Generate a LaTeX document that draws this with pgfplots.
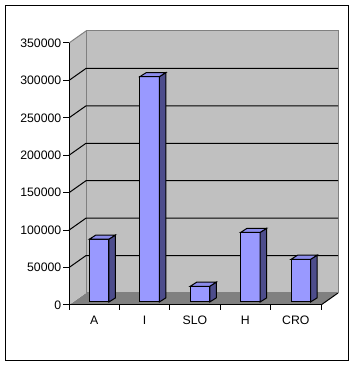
\documentclass[border=0pt]{standalone}
\usepackage{pgfplots}
\pgfplotsset{compat=1.18}
\usepackage{fontspec}
\setmainfont{Liberation Sans}
\definecolor{wallgray}{HTML}{C0C0C0}
\definecolor{floorgray}{HTML}{808080}
\definecolor{barfront}{HTML}{9999FF}
\definecolor{bartop}{HTML}{8C8CEB}
\definecolor{barside}{HTML}{4D4D8C}
\begin{document}
\begin{tikzpicture}[x=1pt,y=1pt]
\useasboundingbox (-51.75,-45.75) rectangle (215.25,228.75);
\draw[line width=0.75pt] (-47.6,-41.25) rectangle (209.6,224.6);
\begin{axis}[
  at={(0,0)}, anchor=south west, scale only axis,
  width=189pt, height=196.5pt,
  xmin=0, xmax=5, ymin=0, ymax=350000,
  clip=false, axis lines*=left, axis on top,
  axis line style={black, line width=0.75pt, -},
  tick style={black, line width=0.75pt},
  tick align=outside,
  major tick length=4.5pt, minor tick length=3.75pt,
  ytick={0,50000,100000,150000,200000,250000,300000,350000},
  scaled y ticks=false,
  yticklabel style={/pgf/number format/fixed, /pgf/number format/1000 sep={}, xshift=2.25pt},
  xtick={0.5,1.5,2.5,3.5,4.5},
  xticklabels={A,I,SLO,H,CRO},
  major x tick style={draw=none},
  minor xtick={0,1,2,3,4,5},
  tick label style={font=\fontsize{9.2}{10}\selectfont, black},
  /pgf/number format/assume math mode=true,
]
% floor
\fill[floorgray] (axis cs:0,0) -- (axis cs:5,0) -- (axis cs:5.3373,16031) -- (axis cs:0.3373,16031) -- cycle;
\draw[black, line width=0.75pt] (axis cs:5,0) -- (axis cs:5.3373,16031);
% side wall
\fill[wallgray] (axis cs:0,0) -- (axis cs:0,350000) -- (axis cs:0.3373,366031) -- (axis cs:0.3373,16031) -- cycle;
\draw[floorgray, line width=0.75pt] (axis cs:0,350000) -- (axis cs:0.3373,366031);
% back wall
\fill[wallgray] (axis cs:0.3373,16031) rectangle (axis cs:5.3373,366031);
\draw[floorgray, line width=0.75pt] (axis cs:0.3373,16031) rectangle (axis cs:5.3373,366031);
% gridlines
\draw[black, line width=0.75pt] (axis cs:0,50000) -- (axis cs:0.3373,66031) -- (axis cs:5.3373,66031);
\draw[black, line width=0.75pt] (axis cs:0,100000) -- (axis cs:0.3373,116031) -- (axis cs:5.3373,116031);
\draw[black, line width=0.75pt] (axis cs:0,150000) -- (axis cs:0.3373,166031) -- (axis cs:5.3373,166031);
\draw[black, line width=0.75pt] (axis cs:0,200000) -- (axis cs:0.3373,216031) -- (axis cs:5.3373,216031);
\draw[black, line width=0.75pt] (axis cs:0,250000) -- (axis cs:0.3373,266031) -- (axis cs:5.3373,266031);
\draw[black, line width=0.75pt] (axis cs:0,300000) -- (axis cs:0.3373,316031) -- (axis cs:5.3373,316031);
\end{axis}
\begin{axis}[
  at={(3.75pt,2.25pt)}, anchor=south west, scale only axis,
  width=189pt, height=196.5pt,
  xmin=0, xmax=5, ymin=0, ymax=350000,
  clip=false, hide axis,
]
\addplot[ybar, bar width=14.6pt, fill=barfront, draw=black, line width=0.75pt]
  coordinates {(0.5,84000) (1.5,301000) (2.5,21000) (3.5,93000) (4.5,57000)};
% side faces
\addplot[fill=barside, draw=black, line width=0.75pt] coordinates {(0.6935,0) (0.6935,84000) (0.8225,89500) (0.8225,5500)} -- cycle;
\addplot[fill=barside, draw=black, line width=0.75pt] coordinates {(1.6935,0) (1.6935,301000) (1.8225,306500) (1.8225,5500)} -- cycle;
\addplot[fill=barside, draw=black, line width=0.75pt] coordinates {(2.6935,0) (2.6935,21000) (2.8225,26500) (2.8225,5500)} -- cycle;
\addplot[fill=barside, draw=black, line width=0.75pt] coordinates {(3.6935,0) (3.6935,93000) (3.8225,98500) (3.8225,5500)} -- cycle;
\addplot[fill=barside, draw=black, line width=0.75pt] coordinates {(4.6935,0) (4.6935,57000) (4.8225,62500) (4.8225,5500)} -- cycle;
% top faces
\addplot[fill=bartop, draw=black, line width=0.75pt] coordinates {(0.3065,84000) (0.6935,84000) (0.8225,89500) (0.4355,89500)} -- cycle;
\addplot[fill=bartop, draw=black, line width=0.75pt] coordinates {(1.3065,301000) (1.6935,301000) (1.8225,306500) (1.4355,306500)} -- cycle;
\addplot[fill=bartop, draw=black, line width=0.75pt] coordinates {(2.3065,21000) (2.6935,21000) (2.8225,26500) (2.4355,26500)} -- cycle;
\addplot[fill=bartop, draw=black, line width=0.75pt] coordinates {(3.3065,93000) (3.6935,93000) (3.8225,98500) (3.4355,98500)} -- cycle;
\addplot[fill=bartop, draw=black, line width=0.75pt] coordinates {(4.3065,57000) (4.6935,57000) (4.8225,62500) (4.4355,62500)} -- cycle;
\end{axis}
\end{tikzpicture}
\end{document}
